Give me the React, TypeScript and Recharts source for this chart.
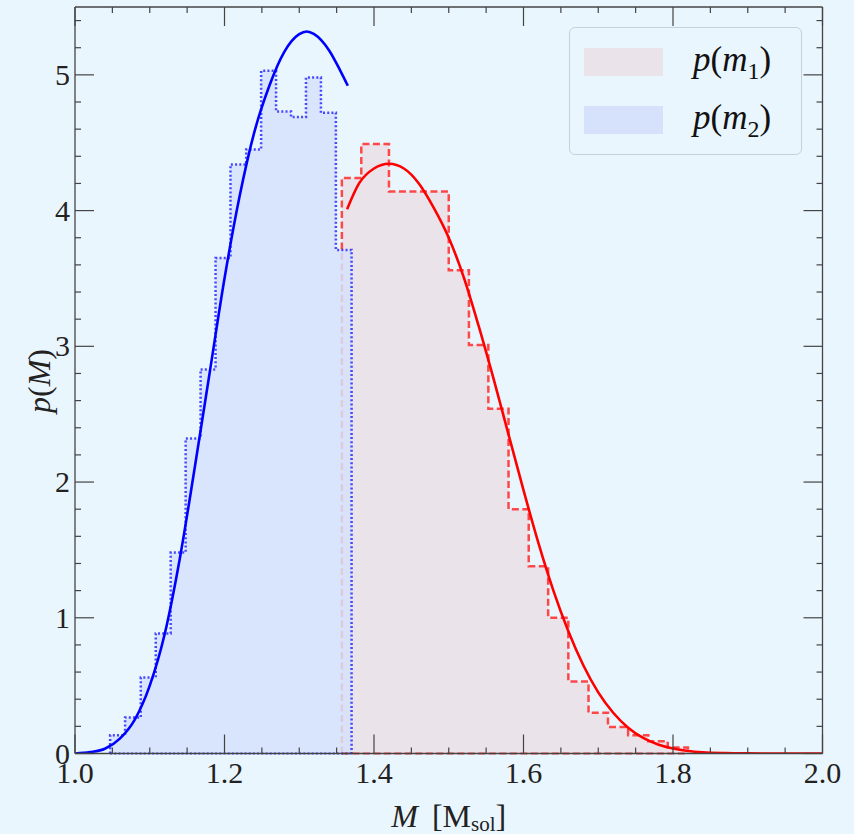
import React from 'react';
import { ComposedChart, Area, Line, XAxis, YAxis, ReferenceLine, Legend } from 'recharts';

const WIDTH = 854;
const HEIGHT = 834;
const BG = '#eaf6fd';
const AXIS = '#444';
const FONT = "'Liberation Serif', 'DejaVu Serif', 'Times New Roman', serif";

const M1_FILL = '#ebe3ea';
const M2_FILL = '#d6e2fb';

// p(m1) histogram: bin edges and densities
const m1Edges = [1.357, 1.383, 1.42, 1.5, 1.527, 1.553, 1.58, 1.607, 1.633, 1.66, 1.687, 1.713, 1.74, 1.767, 1.793, 1.82];
const m1Density = [4.24, 4.49, 4.14, 3.56, 3.01, 2.54, 1.8, 1.38, 1.0, 0.53, 0.3, 0.195, 0.135, 0.09, 0.045];

// p(m2) histogram
const m2Edges = [1.047, 1.067, 1.088, 1.108, 1.128, 1.148, 1.168, 1.188, 1.208, 1.229, 1.249, 1.269, 1.289, 1.309, 1.329, 1.349, 1.37];
const m2Density = [0.135, 0.265, 0.56, 0.885, 1.48, 2.32, 2.83, 3.65, 4.34, 4.45, 5.03, 4.73, 4.69, 4.98, 4.72, 3.71];

// fitted densities
const m1FitM = [1.364, 1.38, 1.4, 1.42, 1.44, 1.46, 1.48, 1.5, 1.52, 1.54, 1.56, 1.58, 1.6, 1.62, 1.64, 1.66, 1.68, 1.7, 1.72, 1.74, 1.76, 1.78, 1.8, 1.82, 1.84, 1.87, 1.9, 1.95, 2.0];
const m1FitP = [4.01, 4.2, 4.31, 4.345, 4.31, 4.2, 4.02, 3.8, 3.51, 3.15, 2.76, 2.35, 1.94, 1.55, 1.2, 0.9, 0.65, 0.45, 0.3, 0.19, 0.115, 0.067, 0.037, 0.019, 0.009, 0.003, 0.001, 0, 0];

const m2FitM = [1.0, 1.02, 1.04, 1.06, 1.08, 1.1, 1.12, 1.14, 1.16, 1.18, 1.2, 1.22, 1.24, 1.26, 1.28, 1.3, 1.31, 1.32, 1.34, 1.355, 1.365];
const m2FitP = [0, 0.01, 0.035, 0.11, 0.25, 0.5, 0.88, 1.43, 2.1, 2.8, 3.5, 4.1, 4.58, 4.92, 5.17, 5.3, 5.32, 5.3, 5.18, 5.03, 4.92];

const xMajor = [1.0, 1.2, 1.4, 1.6, 1.8, 2.0];
const yMajor = [0, 1, 2, 3, 4, 5];
// minor ticks every 0.05 along M and 0.2 along p
const xTicks = Array.from({ length: 21 }, (_, i) => +(1 + i * 0.05).toFixed(2));
const yTicks = Array.from({ length: 28 }, (_, i) => +(i * 0.2).toFixed(1));

const legendItems = [
  { sub: '1', fill: M1_FILL },
  { sub: '2', fill: M2_FILL },
];

type Row = { m: number; [k: string]: number };

// closed step outline: rise at the first edge, one point per bin, drop at the last edge
const histRows = (edges: number[], dens: number[], key: string): Row[] => [
  { m: edges[0], [key]: 0 },
  ...dens.map((d, i) => ({ m: edges[i], [key]: d })),
  { m: edges[edges.length - 1], [key]: 0 },
];

const curveRows = (ms: number[], ps: number[], key: string): Row[] =>
  ms.map((m, i) => ({ m, [key]: ps[i] }));

const rows: Row[] = [
  ...histRows(m1Edges, m1Density, 'h1'),
  ...histRows(m2Edges, m2Density, 'h2'),
  ...curveRows(m1FitM, m1FitP, 'f1'),
  ...curveRows(m2FitM, m2FitP, 'f2'),
].sort((a, b) => a.m - b.m);

const isMajor = (v: number, majors: number[]) => majors.some((t) => Math.abs(t - v) < 1e-6);

// inward ticks on all four sides, labels only on bottom/left
const Tick = (props: any) => {
  const { x, y, payload, side } = props;
  const v = payload.value;
  const major = isMajor(v, side === 'bottom' || side === 'top' ? xMajor : yMajor);
  const len = major ? 19 : 6;
  let x2 = x;
  let y2 = y;
  if (side === 'bottom') y2 = y - len;
  else if (side === 'top') y2 = y + len;
  else if (side === 'left') x2 = x + len;
  else x2 = x - len;
  return (
    <g>
      <line x1={x} y1={y} x2={x2} y2={y2} stroke={AXIS} strokeWidth={1.2} />
      {major && side === 'bottom' && (
        <text x={x} y={y + 29} textAnchor="middle" fontSize={30} fill="#222" style={{ fontFamily: FONT }}>
          {v.toFixed(1)}
        </text>
      )}
      {major && side === 'left' && (
        <text x={x - 5} y={y + 10} textAnchor="end" fontSize={30} fill="#222" style={{ fontFamily: FONT }}>
          {v}
        </text>
      )}
    </g>
  );
};

const XTitle = ({ viewBox }: any) => {
  const cx = viewBox.x + viewBox.width / 2;
  return (
    <text x={cx} y={viewBox.y + 73} textAnchor="middle" fontSize={32} fill="#222" style={{ fontFamily: FONT }}>
      <tspan fontStyle="italic">M</tspan>
      <tspan dx={14}>[M</tspan>
      <tspan fontSize={21} dy={4}>sol</tspan>
      <tspan dy={-4}>]</tspan>
    </text>
  );
};

const YTitle = () => (
  <text
    x={39}
    y={381}
    transform="rotate(-90, 39, 381)"
    textAnchor="middle"
    dominantBaseline="central"
    fontSize={32}
    fill="#222"
    style={{ fontFamily: FONT }}
  >
    <tspan fontStyle="italic">p</tspan>
    <tspan>(</tspan>
    <tspan fontStyle="italic">M</tspan>
    <tspan>)</tspan>
  </text>
);

const LegendBox = () => (
  <div
    style={{
      boxSizing: 'border-box',
      width: 233,
      height: 128,
      border: '1.5px solid #c8d0d8',
      borderRadius: 6,
      background: BG,
      fontFamily: FONT,
      fontSize: 35,
      color: '#111',
      position: 'relative',
    }}
  >
    {legendItems.map((it, i) => (
      <div key={it.sub} style={{ position: 'absolute', left: 14, top: 18 + i * 58, display: 'flex', alignItems: 'center' }}>
        <div style={{ width: 79, height: 28, background: it.fill }} />
        <div style={{ marginLeft: 30, lineHeight: '28px', whiteSpace: 'nowrap' }}>
          <i>p</i>(<i>m</i>
          <span style={{ fontSize: 24, position: 'relative', top: 8 }}>{it.sub}</span>)
        </div>
      </div>
    ))}
  </div>
);

export default function App() {
  const axisLine = { stroke: AXIS, strokeWidth: 1.3 };
  return (
    <div style={{ position: 'absolute', left: 0, top: 0, width: WIDTH, height: HEIGHT, background: BG, fontFamily: FONT }}>
      <ComposedChart width={WIDTH} height={HEIGHT} data={rows} margin={{ top: 6, right: 30.5, bottom: 0, left: 0 }} style={{ fontFamily: FONT }}>
        <Area
          dataKey="h1"
          type="stepAfter"
          connectNulls
          fill={M1_FILL}
          fillOpacity={1}
          stroke="#ff2a2a"
          strokeOpacity={0.85}
          strokeWidth={2.5}
          strokeDasharray="7 3.5"
          isAnimationActive={false}
          activeDot={false}
          legendType="none"
        />
        <ReferenceLine
          segment={[{ x: m1Edges[0], y: 0 }, { x: m1Edges[m1Edges.length - 1], y: 0 }]}
          stroke="#ff2a2a"
          strokeOpacity={0.85}
          strokeWidth={2}
          strokeDasharray="7 3.5"
        />
        <Area
          dataKey="h2"
          type="stepAfter"
          connectNulls
          fill={M2_FILL}
          fillOpacity={0.85}
          stroke="#2a2aff"
          strokeOpacity={0.85}
          strokeWidth={2.5}
          strokeDasharray="2 2.2"
          isAnimationActive={false}
          activeDot={false}
          legendType="none"
        />
        <ReferenceLine
          segment={[{ x: m2Edges[0], y: 0 }, { x: m2Edges[m2Edges.length - 1], y: 0 }]}
          stroke="#2a2aff"
          strokeOpacity={0.85}
          strokeWidth={2}
          strokeDasharray="2 2.2"
        />
        <Line dataKey="f1" type="monotone" connectNulls stroke="#ff0000" strokeWidth={2.6} dot={false} activeDot={false} isAnimationActive={false} legendType="none" />
        <Line dataKey="f2" type="monotone" connectNulls stroke="#0000ff" strokeWidth={2.6} dot={false} activeDot={false} isAnimationActive={false} legendType="none" />

        <XAxis
          dataKey="m"
          type="number"
          domain={[1, 2]}
          allowDataOverflow
          ticks={xTicks}
          interval={0}
          height={80.5}
          tickSize={0}
          tickMargin={0}
          tickLine={false}
          axisLine={axisLine}
          tick={(p: any) => <Tick {...p} side="bottom" />}
          label={{ content: (p: any) => <XTitle {...p} /> }}
        />
        <XAxis
          xAxisId="top"
          orientation="top"
          dataKey="m"
          type="number"
          domain={[1, 2]}
          allowDataOverflow
          ticks={xTicks}
          interval={0}
          height={1}
          tickSize={0}
          tickMargin={0}
          tickLine={false}
          axisLine={axisLine}
          tick={(p: any) => <Tick {...p} side="top" />}
        />
        <YAxis
          type="number"
          domain={[0, 5.5]}
          allowDataOverflow
          ticks={yTicks}
          interval={0}
          width={75}
          tickSize={0}
          tickMargin={0}
          tickLine={false}
          axisLine={axisLine}
          tick={(p: any) => <Tick {...p} side="left" />}
          label={{ content: () => <YTitle /> }}
        />
        <YAxis
          yAxisId="right"
          orientation="right"
          type="number"
          domain={[0, 5.5]}
          allowDataOverflow
          ticks={yTicks}
          interval={0}
          width={1}
          tickSize={0}
          tickMargin={0}
          tickLine={false}
          axisLine={axisLine}
          tick={(p: any) => <Tick {...p} side="right" />}
        />
        <Legend
          layout="vertical"
          align="center"
          verticalAlign="middle"
          content={() => <LegendBox />}
          wrapperStyle={{ left: 569, top: 27, width: 233, height: 128 }}
        />
      </ComposedChart>
    </div>
  );
}
